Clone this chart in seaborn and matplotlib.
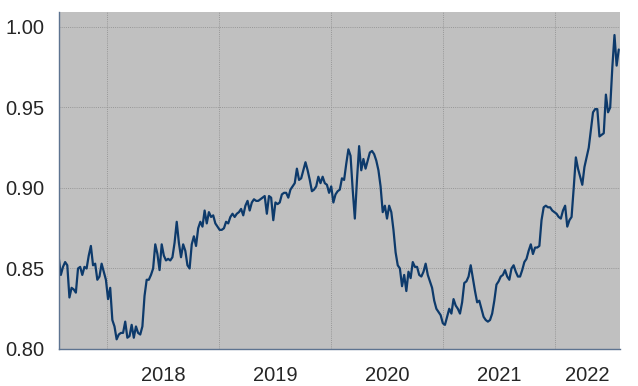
import matplotlib
matplotlib.use("Agg")
import matplotlib.pyplot as plt
import matplotlib.dates as mdates
from matplotlib.ticker import MultipleLocator, FormatStrFormatter, NullFormatter
import numpy as np
import pandas as pd
import seaborn as sns

# ---- data (weekly) ----
start_date = "2017-07-26"
values = [
    0.857, 0.846, 0.851, 0.854, 0.852, 0.832, 0.838, 0.837, 0.835, 0.850,
    0.851, 0.846, 0.851, 0.850, 0.858, 0.864, 0.852, 0.853, 0.843, 0.845,
    0.853, 0.848, 0.843, 0.831, 0.838, 0.818, 0.814, 0.806, 0.809, 0.810,
    0.810, 0.817, 0.807, 0.808, 0.815, 0.807, 0.814, 0.810, 0.809, 0.814,
    0.833, 0.843, 0.843, 0.846, 0.850, 0.865, 0.859, 0.849, 0.865, 0.858,
    0.855, 0.856, 0.855, 0.857, 0.866, 0.879, 0.866, 0.857, 0.865, 0.861,
    0.852, 0.850, 0.865, 0.870, 0.864, 0.875, 0.879, 0.876, 0.886, 0.878,
    0.885, 0.882, 0.883, 0.878, 0.876, 0.874, 0.874, 0.875, 0.879, 0.878,
    0.882, 0.884, 0.882, 0.884, 0.885, 0.887, 0.883, 0.889, 0.892, 0.886,
    0.891, 0.893, 0.892, 0.892, 0.893, 0.894, 0.895, 0.884, 0.895, 0.894,
    0.880, 0.891, 0.890, 0.891, 0.896, 0.897, 0.897, 0.894, 0.899, 0.901,
    0.903, 0.912, 0.905, 0.906, 0.911, 0.916, 0.911, 0.905, 0.898, 0.899,
    0.901, 0.907, 0.903, 0.907, 0.903, 0.902, 0.897, 0.901, 0.891, 0.896,
    0.898, 0.899, 0.906, 0.905, 0.915, 0.924, 0.920, 0.899, 0.881, 0.905,
    0.926, 0.911, 0.918, 0.912, 0.917, 0.922, 0.923, 0.921, 0.917, 0.911,
    0.901, 0.885, 0.889, 0.881, 0.889, 0.885, 0.874, 0.860, 0.852, 0.850,
    0.839, 0.846, 0.836, 0.848, 0.844, 0.854, 0.851, 0.851, 0.846, 0.845,
    0.848, 0.853, 0.846, 0.842, 0.838, 0.830, 0.825, 0.823, 0.821, 0.816,
    0.815, 0.820, 0.825, 0.822, 0.831, 0.827, 0.825, 0.822, 0.829, 0.841,
    0.842, 0.845, 0.852, 0.844, 0.836, 0.829, 0.830, 0.825, 0.820, 0.818,
    0.817, 0.818, 0.822, 0.830, 0.840, 0.842, 0.845, 0.846, 0.849, 0.845,
    0.843, 0.850, 0.852, 0.848, 0.845, 0.845, 0.849, 0.854, 0.856, 0.861,
    0.865, 0.859, 0.863, 0.863, 0.864, 0.880, 0.888, 0.889, 0.888, 0.888,
    0.886, 0.885, 0.884, 0.882, 0.881, 0.886, 0.889, 0.876, 0.880, 0.882,
    0.900, 0.919, 0.912, 0.907, 0.902, 0.913, 0.919, 0.925, 0.936, 0.947,
    0.949, 0.949, 0.932, 0.933, 0.934, 0.958, 0.947, 0.950, 0.975, 0.995,
    0.976, 0.986,
]
year_labels = ["2018", "2019", "2020", "2021", "2022"]
x_end = "2022-07-31"

dates = pd.date_range(start_date, periods=len(values), freq="7D")
df = pd.DataFrame({"date": dates, "value": values})

sns.set_style("white")
plt.rcParams["font.family"] = ["Liberation Sans", "DejaVu Sans"]

fig = plt.figure(figsize=(6.38, 3.86), dpi=100)
ax = fig.add_axes([58.7 / 638, 1 - 349 / 386, (620 - 58.7) / 638, (349 - 12) / 386])
ax.set_facecolor("#c0c0c0")

sns.lineplot(data=df, x="date", y="value", ax=ax, color="#0d3a6b", linewidth=1.6)

ax.set_xlim(pd.Timestamp(start_date), pd.Timestamp(x_end))
ax.set_ylim(0.80, 1.0093)

spine_col = "#5d7390"
for s in ["top", "right"]:
    ax.spines[s].set_visible(False)
for s in ["left", "bottom"]:
    ax.spines[s].set_color(spine_col)
    ax.spines[s].set_linewidth(1.0)

# y axis
ax.yaxis.set_major_locator(MultipleLocator(0.05))
ax.yaxis.set_minor_locator(MultipleLocator(0.01))
ax.yaxis.set_major_formatter(FormatStrFormatter("%.2f"))
ax.tick_params(axis="y", which="major", length=3.5, width=1, color=spine_col,
               labelsize=14.5, labelcolor="#262626", pad=6.5)
ax.tick_params(axis="y", which="minor", length=2.5, width=0.8, color=spine_col)

# x axis: ticks at years (major) and quarters (minor); labels centred in each year
ax.xaxis.set_major_locator(mdates.YearLocator())
ax.xaxis.set_minor_locator(mdates.MonthLocator(bymonth=[1, 4, 7, 10]))
ax.xaxis.set_major_formatter(NullFormatter())
ax.xaxis.set_minor_formatter(NullFormatter())
ax.tick_params(axis="x", which="major", length=4, width=1, color=spine_col)
ax.tick_params(axis="x", which="minor", length=2.5, width=0.8, color=spine_col)

xmax = mdates.date2num(pd.Timestamp(x_end))
label_pos = []
for y in year_labels:
    a = mdates.date2num(pd.Timestamp(f"{y}-01-01"))
    b = min(mdates.date2num(pd.Timestamp(f"{int(y) + 1}-01-01")), xmax)
    label_pos.append((a + b) / 2)
sec = ax.secondary_xaxis("bottom")
sec.set_xticks(label_pos)
sec.set_xticklabels(year_labels)
sec.tick_params(axis="x", length=0, labelsize=14.5, labelcolor="#262626", pad=12)
sec.spines["bottom"].set_visible(False)

ax.grid(True, which="major", axis="both", linestyle=(0, (1, 1.2)),
        color="#979797", linewidth=0.7)
ax.set_xlabel("")
ax.set_ylabel("")
ax.set_axisbelow(True)

fig.savefig("out.png", dpi=100, facecolor="white")
